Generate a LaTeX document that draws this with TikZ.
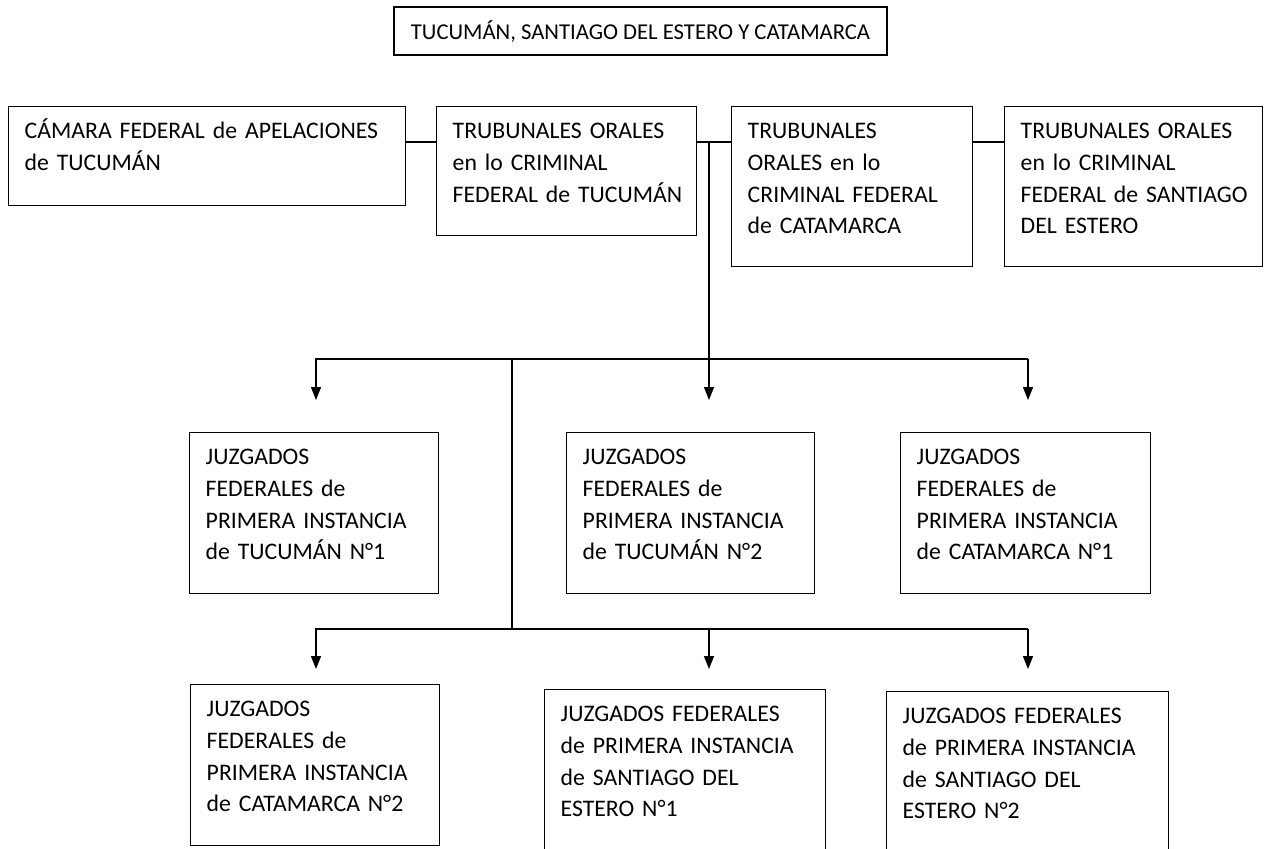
\documentclass[tikz,border=0pt]{standalone}
\usepackage{fontspec}
\setmainfont{Carlito}
\usetikzlibrary{arrows.meta}

\begin{document}
\begin{tikzpicture}[
  x=0.75pt, y=-0.75pt,
  every node/.style={font=\fontsize{17.8}{23.8}\selectfont},
  title/.style={draw, line width=1.1pt, minimum width=369.75pt, minimum height=36pt, inner sep=0pt,
    font=\fontsize{17}{20}\selectfont},
  box/.style 2 args={draw, line width=1.1pt, anchor=north west, align=left,
    inner xsep=12pt, inner ysep=0pt, text height=24pt, text width=#1, text depth=#2},
  link/.style={line width=1.1pt},
  arr/.style={line width=1.1pt, -{Triangle[length=9.75pt,width=7.5pt]}}
]
\useasboundingbox (0,0) rectangle (1267,849);

% title
\node[title] (tit) at (640.5,31) {TUCUMÁN, SANTIAGO DEL ESTERO Y CATAMARCA};

% upper row
\node[box={273.75pt}{50.25pt}] (cam) at (8,106) {\mbox{CÁMARA FEDERAL de APELACIONES}\\de TUCUMÁN};
\node[box={171pt}{72.75pt}] (ortuc) at (436,106) {TRUBUNALES ORALES\\en lo CRIMINAL\\\mbox{FEDERAL de TUCUMÁN}};
\node[box={156.75pt}{96pt}] (orcat) at (731,106) {TRUBUNALES\\ORALES en lo\\CRIMINAL FEDERAL\\de CATAMARCA};
\node[box={169.5pt}{96pt}] (orsde) at (1004,106) {TRUBUNALES ORALES\\en lo CRIMINAL\\\mbox{FEDERAL de SANTIAGO}\\DEL ESTERO};

% juzgados, first row
\node[box={162.75pt}{96.75pt}] (jtuc1) at (189,432) {JUZGADOS\\FEDERALES de\\PRIMERA INSTANCIA\\de TUCUMÁN N°1};
\node[box={162pt}{96.75pt}] (jtuc2) at (566,432) {JUZGADOS\\FEDERALES de\\PRIMERA INSTANCIA\\de TUCUMÁN N°2};
\node[box={163.5pt}{96.75pt}] (jcat1) at (900,432) {JUZGADOS\\FEDERALES de\\PRIMERA INSTANCIA\\de CATAMARCA N°1};

% juzgados, second row
\node[box={162.75pt}{96.75pt}] (jcat2) at (190,684) {JUZGADOS\\FEDERALES de\\PRIMERA INSTANCIA\\de CATAMARCA N°2};
\node[box={186.75pt}{99.75pt}] (jsde1) at (544,689) {JUZGADOS FEDERALES\\\mbox{de PRIMERA INSTANCIA}\\de SANTIAGO DEL\\ESTERO N°1};
\node[box={187.5pt}{99.75pt}] (jsde2) at (886,691) {JUZGADOS FEDERALES\\\mbox{de PRIMERA INSTANCIA}\\de SANTIAGO DEL\\ESTERO N°2};

% links between the upper boxes
\coordinate (row) at (0,142);
\draw[link] (cam.east |- row) -- (ortuc.west |- row);
\draw[link] (ortuc.east |- row) -- (orcat.west |- row);
\draw[link] (orcat.east |- row) -- (orsde.west |- row);

% buses and arrows
\coordinate (split) at (709,142);
\coordinate (bus1) at (0,359);
\coordinate (bus2) at (0,629);
\coordinate (mid) at (512,359);
\foreach \i/\x in {1/316, 2/709, 3/1028} {
  \coordinate (tip\i) at (\x,400);
  \coordinate (low\i) at (\x,669);
}

\draw[arr] (tip3 |- bus1) -- (tip1 |- bus1) -- (tip1);
\draw[arr] (tip3 |- bus1) -- (tip3);
\draw[arr] (split) -- (tip2);
\draw[link] (mid) -- (mid |- bus2);
\draw[arr] (low3 |- bus2) -- (low1 |- bus2) -- (low1);
\foreach \i in {2,3} \draw[arr] (low\i |- bus2) -- (low\i);

\end{tikzpicture}
\end{document}
